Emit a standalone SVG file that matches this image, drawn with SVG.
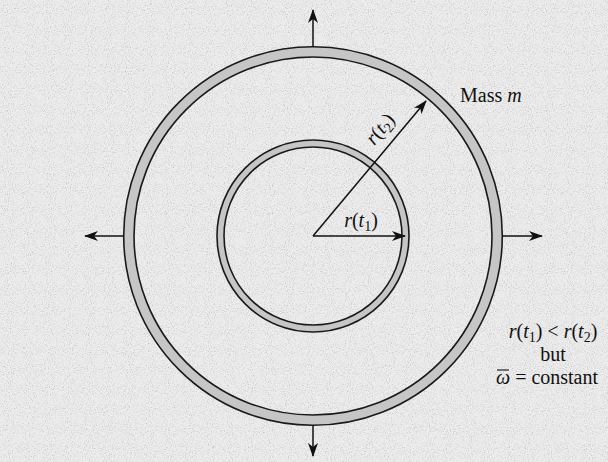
<svg xmlns="http://www.w3.org/2000/svg" width="608" height="462" viewBox="0 0 608 462">
  <style>
    text { font-family: "Liberation Serif", "Times New Roman", "DejaVu Serif", serif; font-size: 20px; fill: #111; }
    .it { font-style: italic; }
    .sub { font-size: 14px; }
    .ln { stroke: #111; stroke-width: 1.5; fill: none; }
    .edge { stroke: #1a1a1a; stroke-width: 1.6; fill: none; }
    .band { stroke: #c6c6c6; fill: none; }
  </style>
  <defs>
    <marker id="ah" viewBox="0 0 14 10" refX="13" refY="5" markerWidth="14" markerHeight="10" markerUnits="userSpaceOnUse" orient="auto">
      <path d="M0,0 L14,5 L0,10 L4,5 Z" fill="#111"/>
    </marker>
    <filter id="noise" x="0" y="0" width="100%" height="100%">
      <feTurbulence type="fractalNoise" baseFrequency="0.95" numOctaves="2" seed="3"/>
      <feColorMatrix type="matrix" values="2 0 0 0 -0.1  2 0 0 0 -0.1  2 0 0 0 -0.1  0 0 0 0 1"/>
    </filter>
  </defs>
  <rect x="0" y="0" width="608" height="462" fill="#e6e6e6"/>
  <rect x="0" y="0" width="608" height="462" filter="url(#noise)" opacity="0.3"/>

  <g id="outer-ring">
    <circle cx="313" cy="236" r="184.2" class="band" stroke-width="10"/>
    <circle cx="313" cy="236" r="189.3" class="edge"/>
    <circle cx="313" cy="236" r="179" class="edge"/>
  </g>

  <g id="inner-ring">
    <circle cx="313" cy="236" r="92.5" class="band" stroke-width="6"/>
    <circle cx="313" cy="236" r="96" class="edge"/>
    <circle cx="313" cy="236" r="89" class="edge"/>
  </g>

  <g id="connectors">
    <line x1="313" y1="46.7" x2="313" y2="10" class="ln" marker-end="url(#ah)"/>
    <line x1="313" y1="425.3" x2="313" y2="456" class="ln" marker-end="url(#ah)"/>
    <line x1="123.7" y1="236" x2="85" y2="236" class="ln" marker-end="url(#ah)"/>
    <line x1="502.3" y1="236" x2="542" y2="236" class="ln" marker-end="url(#ah)"/>
    <line x1="313" y1="236" x2="405" y2="236" class="ln" marker-end="url(#ah)"/>
    <line x1="313" y1="236" x2="426" y2="101" class="ln" marker-end="url(#ah)"/>
  </g>

  <g id="label-rt1">
    <text x="361" y="227" text-anchor="middle"><tspan class="it">r</tspan>(<tspan class="it">t</tspan><tspan class="sub" dy="4">1</tspan><tspan dy="-4">)</tspan></text>
  </g>

  <g id="label-rt2">
    <text x="0" y="0" text-anchor="middle" transform="translate(385,133) rotate(-50)"><tspan class="it">r</tspan>(<tspan class="it">t</tspan><tspan class="sub" dy="4">2</tspan><tspan dy="-4">)</tspan></text>
  </g>

  <g id="label-mass">
    <text x="460" y="102">Mass <tspan class="it">m</tspan></text>
  </g>

  <g id="label-note">
    <text x="553" y="338" text-anchor="middle"><tspan class="it">r</tspan>(<tspan class="it">t</tspan><tspan class="sub" dy="4">1</tspan><tspan dy="-4">) &lt; </tspan><tspan class="it">r</tspan>(<tspan class="it">t</tspan><tspan class="sub" dy="4">2</tspan><tspan dy="-4">)</tspan></text>
    <text x="553" y="361" text-anchor="middle">but</text>
    <text x="496" y="384"><tspan class="it">ω</tspan> = constant</text>
    <line x1="497" y1="370" x2="509" y2="370" stroke="#111" stroke-width="1.1"/>
  </g>
</svg>
